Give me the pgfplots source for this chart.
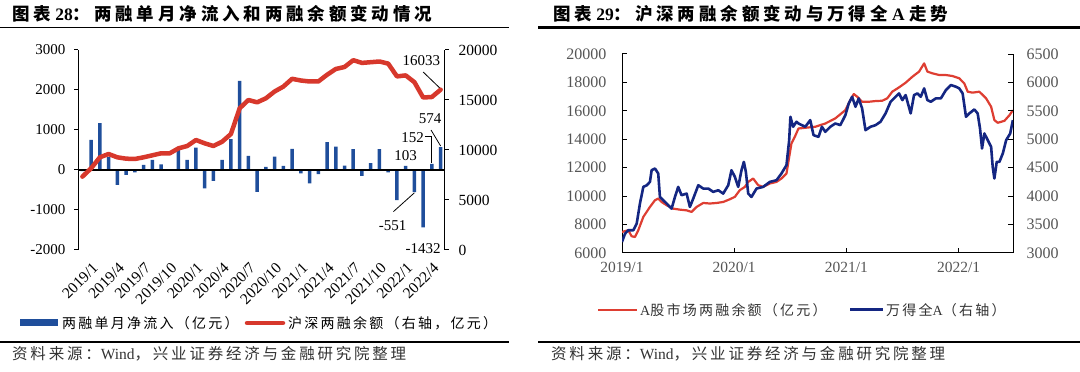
\documentclass[border=0pt]{standalone}
\usepackage{fontspec}
\setmainfont{Liberation Serif}
\newfontfamily\cjkT[LetterSpace=22]{Noto Sans CJK SC}
\newfontfamily\cjkL[LetterSpace=16]{Noto Sans CJK SC}
\newfontfamily\cjkS[LetterSpace=18]{Noto Sans CJK SC}
\usepackage{pgfplots}
\pgfplotsset{compat=1.18}
\definecolor{barblue}{RGB}{31,78,155}
\definecolor{lred}{RGB}{215,56,44}
\definecolor{rred}{RGB}{222,62,50}
\definecolor{navy}{RGB}{20,38,130}
\definecolor{tgray}{RGB}{85,85,85}
\definecolor{dgray}{RGB}{50,50,50}

\begin{document}
\begin{tikzpicture}
\path[use as bounding box] (0,0) rectangle (1080pt,372pt);
% titles and rules
\node[anchor=west, inner sep=0] at (12pt,358pt) {\fontsize{17.5}{20}\selectfont\bfseries{\cjkT 图表} 28{\cjkT ：两融单月净流入和两融余额变动情况}};
\node[anchor=west, inner sep=0] at (553pt,358pt) {\fontsize{17.5}{20}\selectfont\bfseries{\cjkT 图表} 29{\cjkT ：沪深两融余额变动与万得全} A {\cjkT 走势}};
\draw[line width=1.3pt] (0,344.5pt) -- (509pt,344.5pt);
\draw[line width=2.2pt] (538pt,344.5pt) -- (1080pt,344.5pt);
\draw[line width=1.3pt] (0,30pt) -- (509pt,30pt);
\draw[line width=2.2pt] (538pt,30pt) -- (1080pt,30pt);
\node[anchor=west, inner sep=0, text=dgray] at (12pt,18pt) {\fontsize{15.5}{16}\selectfont{\cjkS 资料来源：}Wind{\cjkS ，兴业证券经济与金融研究院整理}};
\node[anchor=west, inner sep=0, text=dgray] at (551pt,18pt) {\fontsize{15.5}{16}\selectfont{\cjkS 资料来源：}Wind{\cjkS ，兴业证券经济与金融研究院整理}};

% legends
\fill[barblue] (20pt,45.5pt) rectangle (58pt,52.5pt);
\node[anchor=west, inner sep=0] at (62pt,49pt) {\fontsize{14}{14}\selectfont\cjkL 两融单月净流入（亿元）};
\draw[lred, line width=4.5pt, line cap=round] (247pt,49pt) -- (283pt,49pt);
\node[anchor=west, inner sep=0] at (288pt,49pt) {\fontsize{14}{14}\selectfont\cjkL 沪深两融余额（右轴，亿元）};

\draw[rred, line width=2.5pt] (598pt,62pt) -- (637pt,62pt);
\node[anchor=west, inner sep=0, text=dgray] at (640pt,62pt) {\fontsize{14}{14}\selectfont A{\cjkL 股市场两融余额（亿元）}};
\draw[navy, line width=3pt] (850pt,62pt) -- (883pt,62pt);
\node[anchor=west, inner sep=0, text=dgray] at (886pt,62pt) {\fontsize{14}{14}\selectfont{\cjkL 万得全}A{\cjkL （右轴）}};

% ---------- left chart ----------
\begin{axis}[
  at={(78pt,122pt)}, anchor=south west,
  width=367pt, height=200pt, scale only axis,
  xmin=-0.5, xmax=41.5, ymin=-2000, ymax=3000,
  axis x line*=bottom, axis y line*=left,
  axis line style={-, line width=1pt},
  x axis line style={draw=none},
  xtick={0,3,...,39},
  xticklabels={2019/1,2019/4,2019/7,2019/10,2020/1,2020/4,2020/7,2020/10,2021/1,2021/4,2021/7,2021/10,2022/1,2022/4},
  xtick style={draw=none},
  xticklabel style={rotate=45, anchor=north east, inner sep=0pt, yshift=-12pt, xshift=1pt, font=\fontsize{15.5}{15.5}\selectfont},
  ytick={-2000,-1000,...,3000},
  tick align=outside, major tick length=4pt,
  ytick style={line width=1pt, black},
  yticklabel style={font=\fontsize{15}{15}\selectfont, xshift=-5pt},
  /pgf/number format/assume math mode=true,
  /pgf/number format/1000 sep={},
  scaled y ticks=false,
  clip=false,
]
\addplot[ybar, bar width=3.5pt, fill=barblue, draw=none] coordinates {
(0,-30) (1,750) (2,1170) (3,330) (4,-375) (5,-125) (6,-60) (7,125) (8,250) (9,140)
(10,20) (11,500) (12,250) (13,560) (14,-460) (15,-275) (16,250) (17,770) (18,2230) (19,350)
(20,-550) (21,80) (22,335) (23,100) (24,525) (25,-85) (26,-335) (27,-105) (28,695) (29,585)
(30,110) (31,520) (32,-150) (33,170) (34,520) (35,-60) (36,-755) (37,103) (38,-551) (39,-1432)
(40,152) (41,574)
};
\draw[black, line width=1.3pt] (axis cs:-0.5,0) -- (axis cs:41.5,0);
\begin{scope}[every node/.style={font=\fontsize{15}{15}\selectfont, inner sep=0}]
\node at (axis cs:38.8,2732) {16033};
\draw[black, line width=0.8pt] (axis cs:39,2450) -- (axis cs:41,2030);
\node at (axis cs:39.8,1275) {574};
\draw[black, line width=0.8pt] (axis cs:39.9,1000) -- (axis cs:41,600);
\node at (axis cs:37.8,812) {152};
\draw[black, line width=0.8pt] (axis cs:39.2,833) -- (axis cs:40,833) -- (axis cs:40,170);
\node at (axis cs:37,350) {103};
\node at (axis cs:35.5,-1400) {-551};
\draw[black, line width=0.8pt] (axis cs:35.6,-1040) -- (axis cs:38,-570);
\node at (axis cs:39,-1958) {-1432};
\end{scope}
\end{axis}

\begin{axis}[
  at={(78pt,122pt)}, anchor=south west,
  width=367pt, height=200pt, scale only axis,
  xmin=-0.5, xmax=41.5, ymin=0, ymax=20000,
  axis x line=none, axis y line*=right,
  axis line style={-, line width=1pt},
  ytick={0,5000,...,20000},
  tick align=outside, major tick length=4pt,
  ytick style={line width=1pt, black},
  yticklabel style={font=\fontsize{15.5}{15.5}\selectfont, xshift=6pt},
  /pgf/number format/assume math mode=true,
  /pgf/number format/1000 sep={},
  scaled y ticks=false,
]
\addplot[lred, line width=4.5pt, line join=round, line cap=round] coordinates {
(0,7333) (1,8167) (2,9267) (3,9600) (4,9267) (5,9133) (6,9100) (7,9267) (8,9467) (9,9667)
(10,9667) (11,10167) (12,10400) (13,11000) (14,10667) (15,10400) (16,10833) (17,11600) (18,14167) (19,15000)
(20,14767) (21,15167) (22,15850) (23,16340) (24,17120) (25,16950) (26,16850) (27,16850) (28,17520) (29,18100)
(30,18300) (31,18980) (32,18710) (33,18780) (34,18850) (35,18640) (36,17360) (37,17460) (38,16780) (39,15250)
(40,15300) (41,16033)
};
\end{axis}

% ---------- right chart ----------
\begin{axis}[
  at={(622pt,119pt)}, anchor=south west,
  width=391pt, height=199pt, scale only axis,
  xmin=2019, xmax=2022.485, ymin=6000, ymax=20000,
  axis x line*=bottom, axis y line*=left,
  axis line style={-, line width=1pt},
  xtick={2019,2020,2021,2022},
  xticklabels={2019/1,2020/1,2021/1,2022/1},
  tick align=inside, major tick length=5pt,
  tick style={line width=1pt, black},
  ytick={6000,8000,...,20000},
  xticklabel style={font=\fontsize{15.5}{15.5}\selectfont, text=tgray, yshift=-6pt},
  yticklabel style={font=\fontsize{16}{16}\selectfont, text=tgray, xshift=-12pt},
  /pgf/number format/assume math mode=true,
  /pgf/number format/1000 sep={},
  scaled y ticks=false, scaled x ticks=false,
]
\addplot[rred, line width=2.2pt, line join=round] coordinates {
(2019.000,7480) (2019.056,7600) (2019.086,7175) (2019.116,7130) (2019.145,7600) (2019.190,8540) (2019.249,9240) (2019.294,9710) (2019.323,9830) (2019.353,9590) (2019.398,9360) (2019.457,9120) (2019.516,9050) (2019.576,9000) (2019.620,8890) (2019.665,9240) (2019.724,9520) (2019.783,9480) (2019.843,9520) (2019.902,9590) (2019.961,9780) (2020.006,9950) (2020.050,10420) (2020.095,10650) (2020.125,11000) (2020.169,11240) (2020.214,10770) (2020.258,10650) (2020.318,10890) (2020.377,11000) (2020.421,11240) (2020.466,11590) (2020.510,13700) (2020.540,14170) (2020.573,14760) (2020.722,14880) (2020.812,15110) (2020.901,15470) (2020.991,16050) (2021.036,16760) (2021.066,17180) (2021.096,17000) (2021.140,16640) (2021.200,16640) (2021.260,16690) (2021.319,16710) (2021.364,16880) (2021.409,17350) (2021.469,17650) (2021.528,17980) (2021.588,18400) (2021.648,18760) (2021.693,19340) (2021.722,18760) (2021.767,18640) (2021.827,18520) (2021.887,18520) (2021.946,18450) (2022.006,18290) (2022.051,17930) (2022.081,17350) (2022.125,17280) (2022.185,17350) (2022.245,16880) (2022.290,16290) (2022.319,15350) (2022.349,15160) (2022.409,15300) (2022.454,15700) (2022.484,16050)
};
\end{axis}

\begin{axis}[
  at={(622pt,119pt)}, anchor=south west,
  width=391pt, height=199pt, scale only axis,
  xmin=2019, xmax=2022.485, ymin=3000, ymax=6500,
  axis x line=none, axis y line*=right,
  axis line style={-, line width=1pt},
  tick align=inside, major tick length=5pt,
  tick style={line width=1pt, black},
  ytick={3000,3500,...,6500},
  yticklabel style={font=\fontsize{16}{16}\selectfont, text=tgray, xshift=10pt},
  /pgf/number format/assume math mode=true,
  /pgf/number format/1000 sep={},
  scaled y ticks=false,
]
\addplot[navy, line width=2.6pt, line join=round] coordinates {
(2019.000,3194) (2019.027,3340) (2019.056,3400) (2019.101,3400) (2019.131,3517) (2019.160,3870) (2019.190,4163) (2019.220,4190) (2019.249,4250) (2019.264,4456) (2019.294,4486) (2019.323,4398) (2019.338,3986) (2019.368,3928) (2019.398,3870) (2019.442,3780) (2019.472,3986) (2019.501,4163) (2019.531,4016) (2019.576,4045) (2019.605,3810) (2019.635,3957) (2019.680,4192) (2019.724,4133) (2019.769,4133) (2019.813,4075) (2019.858,4104) (2019.902,4045) (2019.947,4192) (2019.976,4456) (2020.006,4339) (2020.036,4163) (2020.065,4456) (2020.086,4603) (2020.104,4427) (2020.125,4045) (2020.154,3986) (2020.199,4133) (2020.258,4163) (2020.318,4251) (2020.377,4280) (2020.421,4398) (2020.466,4545) (2020.490,4985) (2020.501,5396) (2020.525,5220) (2020.555,5308) (2020.573,5278) (2020.633,5220) (2020.678,5337) (2020.707,5073) (2020.752,5043) (2020.782,5220) (2020.812,5131) (2020.857,5220) (2020.901,5278) (2020.946,5249) (2020.991,5425) (2021.021,5630) (2021.051,5748) (2021.081,5572) (2021.110,5719) (2021.140,5543) (2021.170,5161) (2021.215,5220) (2021.260,5249) (2021.304,5308) (2021.349,5455) (2021.394,5660) (2021.439,5748) (2021.469,5807) (2021.499,5689) (2021.528,5778) (2021.573,5455) (2021.603,5778) (2021.633,5807) (2021.663,5748) (2021.693,5895) (2021.722,5689) (2021.752,5660) (2021.797,5719) (2021.842,5719) (2021.887,5866) (2021.931,5954) (2021.976,5924) (2022.006,5895) (2022.036,5807) (2022.066,5396) (2022.096,5455) (2022.140,5525) (2022.170,5455) (2022.191,5190) (2022.209,4838) (2022.230,5102) (2022.260,4985) (2022.290,4867) (2022.304,4515) (2022.319,4310) (2022.340,4603) (2022.364,4603) (2022.394,4750) (2022.424,4985) (2022.460,5102) (2022.484,5337)
};
\end{axis}
\end{tikzpicture}
\end{document}
